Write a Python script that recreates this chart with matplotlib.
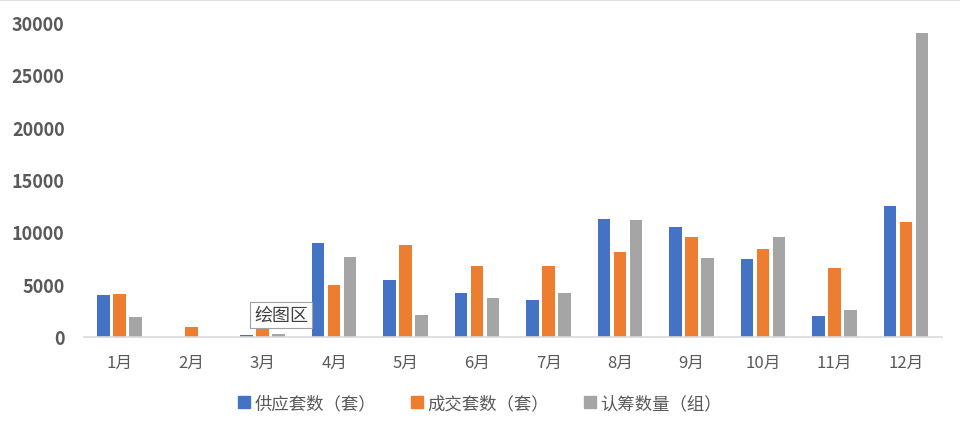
import numpy as np
import matplotlib

matplotlib.use("Agg")
import matplotlib.pyplot as plt
from matplotlib.lines import Line2D

plt.rcParams["font.family"] = ["Noto Sans CJK SC", "DejaVu Sans"]

months = ["1月", "2月", "3月", "4月", "5月", "6月",
          "7月", "8月", "9月", "10月", "11月", "12月"]
supply = [4000, 0, 160, 8980, 5460, 4160, 3520, 11260, 10440, 7460, 2030, 12440]
deals = [4090, 950, 850, 4980, 8760, 6790, 6790, 8060, 9490, 8350, 6540, 10980]
subscribe = [1930, 0, 320, 7590, 2120, 3680, 4190, 11140, 7520, 9490, 2600, 28940]
series_names = ["供应套数（套）", "成交套数（套）", "认筹数量（组）"]
colors = ["#4472C4", "#ED7D31", "#A5A5A5"]
yticks = [0, 5000, 10000, 15000, 20000, 25000, 30000]

fig = plt.figure(figsize=(9.6, 4.31), dpi=100)
ax = fig.add_axes([0.0875, 0.2158, 0.8935, 0.7308])

x = np.arange(len(months))
step = 0.224
width = 0.176
for i, (vals, name, c) in enumerate(zip([supply, deals, subscribe], series_names, colors)):
    ax.bar(x + (i - 1) * step, vals, width=width, color=c, label=name, zorder=2)

ax.set_xlim(-0.5, len(months) - 0.5)
ax.set_ylim(0, 30000)
ax.set_yticks(yticks)
ax.set_yticklabels([str(v) for v in yticks], fontsize=13, fontweight="bold", color="#595959")
ax.set_xticks(x)
ax.set_xticklabels(months, fontsize=12, color="#595959")
ax.tick_params(axis="both", length=0)
ax.tick_params(axis="x", pad=12)
ax.tick_params(axis="y", pad=14)
for s in ["top", "right", "left"]:
    ax.spines[s].set_visible(False)
ax.spines["bottom"].set_color("#D9D9D9")
ax.spines["bottom"].set_linewidth(1.2)

# hover tooltip left in the screenshot
ax.text(2.255, 2100, "绘图区", fontsize=13, color="#404040", ha="center", va="center", zorder=5,
        bbox=dict(boxstyle="square,pad=0.2", fc="white", ec="#A0A0A0", lw=0.8))

handles = [Line2D([], [], marker="s", ls="", color=c, ms=8, label=n)
           for c, n in zip(colors, series_names)]
fig.legend(handles=handles, loc="center", bbox_to_anchor=(0.5, 0.063), ncol=3,
           frameon=False, fontsize=12.5, handlelength=0.7, handletextpad=0.25,
           columnspacing=2.0, labelcolor="#595959")

fig.add_artist(Line2D([0, 1], [0.998, 0.998], color="#D9D9D9", lw=1.2))

fig.savefig("out.png", dpi=100)
